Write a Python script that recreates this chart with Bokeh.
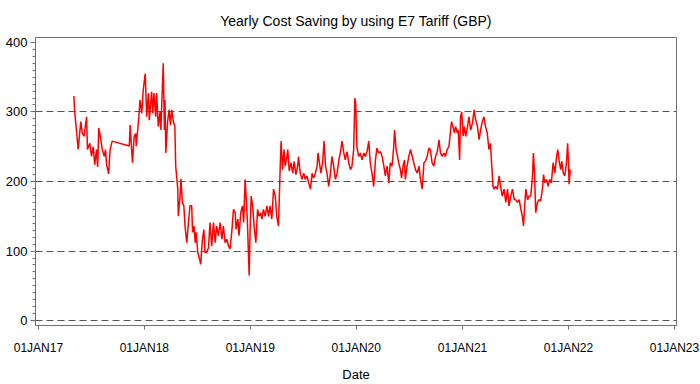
import pandas as pd
from bokeh.plotting import figure
from bokeh.models import Range1d, FixedTicker, SingleIntervalTicker, CustomJSTickFormatter
from bokeh.embed import file_html
from bokeh.resources import INLINE

# ---- data ----
start_date = "2017-01-01"
day_offset = [
    122, 125, 131, 137, 146, 151, 157, 166, 169, 177, 183, 189, 194, 200, 204, 208, 215, 220, 227, 231,
    235, 242, 247, 254,
    313, 316, 324, 330, 335, 337, 346, 350, 356, 361, 368, 373, 379, 382, 390, 394, 398, 404, 407, 413,
    419, 422, 425, 430, 434, 436, 439, 445, 450, 455, 459, 465, 470, 473, 480, 482, 488, 491, 496, 501,
    505, 511, 517, 522, 528, 531, 536, 540, 543, 549, 555, 559, 565, 570, 574, 580, 586, 591, 597, 603,
    609, 614, 620, 626, 632, 637, 643, 649, 655, 660, 666, 672, 678, 681, 687, 691, 697, 703, 707, 712,
    716, 720, 726, 729, 733, 738, 743, 749, 755, 760, 766, 770, 775, 781, 787, 793, 798, 804, 810, 816,
    821, 827, 833, 836, 841, 846, 850, 856, 859, 864, 870, 876, 881, 887, 893, 896, 902, 908, 914, 919,
    925, 931, 937, 943, 948, 954, 960, 963, 968, 973, 979, 984, 989, 994, 1000, 1006, 1011, 1017, 1023, 1029,
    1035, 1040, 1046, 1052, 1057, 1063, 1069, 1075, 1080, 1086, 1090, 1093, 1097, 1103, 1109, 1115, 1121, 1126, 1132, 1138,
    1143, 1149, 1155, 1161, 1166, 1172, 1178, 1184, 1190, 1195, 1201, 1207, 1212, 1218, 1224, 1227, 1232, 1237, 1241, 1247,
    1251, 1256, 1261, 1264, 1270, 1276, 1282, 1288, 1293, 1299, 1305, 1311, 1316, 1322, 1328, 1333, 1339, 1345, 1350, 1356,
    1362, 1368, 1374, 1380, 1385, 1391, 1397, 1402, 1408, 1414, 1420, 1423, 1428, 1433, 1437, 1443, 1446, 1451, 1454, 1458,
    1463, 1467, 1472, 1478, 1483, 1489, 1495, 1501, 1506, 1512, 1518, 1523, 1529, 1535, 1540, 1546, 1552, 1557, 1561, 1566,
    1570, 1575, 1581, 1587, 1592, 1598, 1604, 1610, 1616, 1621, 1627, 1633, 1639, 1644, 1650, 1656, 1662, 1667, 1671, 1675,
    1679, 1685, 1690, 1696, 1702, 1705, 1709, 1713, 1719, 1725, 1730, 1736, 1740, 1744, 1750, 1756, 1761, 1767, 1773, 1779,
    1785, 1789, 1794, 1799, 1803, 1808, 1813, 1819, 1823, 1826, 1828, 1832,
]
saving = [
    323, 300, 274, 246, 286, 270, 265, 293, 246, 255, 236, 250, 224, 246, 221, 277, 260, 246, 236, 246,
    224, 211, 246, 258,
    251, 281, 227, 265, 269, 251, 293, 317, 298, 331, 355, 293, 327, 288, 329, 298, 327, 293, 327, 279,
    300, 274, 313, 370, 274, 317, 241, 286, 303, 281, 303, 286, 279, 222, 189, 150, 179, 204, 170, 165,
    136, 112, 141, 165, 165, 127, 136, 112, 127, 98, 89, 81, 117, 131, 98, 98, 105, 141, 107, 141,
    112, 136, 122, 141, 117, 136, 112, 117, 107, 103, 127, 160, 155, 131, 146, 122, 155, 165, 141, 203,
    174, 141, 65, 127, 179, 165, 136, 112, 160, 150, 155, 146, 160, 150, 165, 150, 165, 146, 189, 179,
    150, 136, 222, 258, 217, 246, 222, 236, 246, 215, 227, 212, 229, 210, 222, 236, 212, 203, 212, 203,
    208, 198, 189, 212, 205, 212, 222, 241, 227, 212, 227, 258, 222, 212, 193, 212, 236, 222, 203, 212,
    231, 241, 258, 241, 231, 243, 227, 217, 222, 246, 320, 312, 250, 236, 241, 231, 241, 236, 243, 258,
    227, 212, 193, 231, 248, 241, 243, 236, 222, 208, 222, 198, 227, 222, 250, 274, 246, 236, 227, 217,
    205, 222, 231, 203, 222, 236, 246, 236, 227, 217, 212, 222, 203, 189, 227, 229, 236, 248, 246, 227,
    222, 236, 243, 260, 241, 236, 241, 236, 246, 250, 274, 286, 279, 270, 279, 270, 274, 231, 293, 300,
    265, 279, 265, 279, 293, 274, 284, 303, 289, 280, 260, 274, 286, 293, 279, 270, 246, 255, 227, 193,
    189, 193, 189, 208, 193, 179, 189, 170, 189, 165, 179, 189, 174, 174, 170, 174, 160, 150, 136, 165,
    189, 174, 179, 179, 208, 241, 212, 155, 170, 174, 172, 189, 210, 198, 203, 193, 203, 198, 227, 212,
    236, 246, 229, 217, 229, 212, 208, 227, 255, 227, 196, 217,
]
year_ticks = ["2017-01-01", "2018-01-01", "2019-01-01", "2020-01-01",
              "2021-01-01", "2022-01-01", "2023-01-01"]
ref_lines = [0, 100, 200, 300]

dates = pd.Timestamp(start_date) + pd.to_timedelta(day_offset, unit="D")
tick_ms = [pd.Timestamp(t).value // 10**6 for t in year_ticks]

FONT = "Liberation Sans"
AXIS_GREY = "#707070"

p = figure(
    width=700, height=384,
    x_axis_type="datetime",
    x_range=Range1d(pd.Timestamp("2016-12-22"), pd.Timestamp("2023-01-08")),
    y_range=Range1d(-7, 407),
    output_backend="svg", toolbar_location=None,
    min_border_left=35, min_border_right=24, min_border_top=37, min_border_bottom=57,
    title="Yearly Cost Saving by using E7 Tariff (GBP)",
)
p.title.align = "center"
p.title.text_font = FONT
p.title.text_font_size = "14px"
p.title.text_font_style = "normal"
p.title.text_color = "black"
p.title.standoff = 17

p.outline_line_color = AXIS_GREY
p.outline_line_width = 1

p.line(dates, saving, line_color="#ff0000", line_width=1.5)

# x axis
xa = p.xaxis[0]
xa.ticker = FixedTicker(ticks=tick_ms, num_minor_ticks=0)
xa.formatter = CustomJSTickFormatter(code="""
const d = new Date(tick);
const m = ['JAN','FEB','MAR','APR','MAY','JUN','JUL','AUG','SEP','OCT','NOV','DEC'];
const dd = String(d.getUTCDate()).padStart(2, '0');
return dd + m[d.getUTCMonth()] + String(d.getUTCFullYear()).slice(2);
""")
xa.axis_label = "Date"
xa.major_tick_out = 4
xa.major_tick_in = 0
xa.major_label_standoff = 11
xa.axis_label_standoff = 9

# y axis
ya = p.yaxis[0]
ya.ticker = SingleIntervalTicker(interval=100, num_minor_ticks=10)
ya.major_tick_out = 5
ya.major_tick_in = 0
ya.minor_tick_out = 3
ya.minor_tick_in = 0
ya.major_label_standoff = 3

for ax in (xa, ya):
    ax.axis_line_color = AXIS_GREY
    ax.major_tick_line_color = AXIS_GREY
    ax.major_label_text_font = FONT
    ax.major_label_text_color = "black"
    ax.axis_label_text_font = FONT
    ax.axis_label_text_font_size = "13px"
    ax.axis_label_text_font_style = "normal"
    ax.axis_label_text_color = "black"
xa.minor_tick_line_color = None
ya.minor_tick_line_color = AXIS_GREY
xa.major_label_text_font_size = "12px"
ya.major_label_text_font_size = "13px"

p.xgrid.grid_line_color = None
p.ygrid.ticker = FixedTicker(ticks=ref_lines)
p.ygrid.grid_line_color = "#555555"
p.ygrid.grid_line_dash = "7 4"
p.ygrid.grid_line_width = 1

open("out.html", "w").write(file_html(p, INLINE))
